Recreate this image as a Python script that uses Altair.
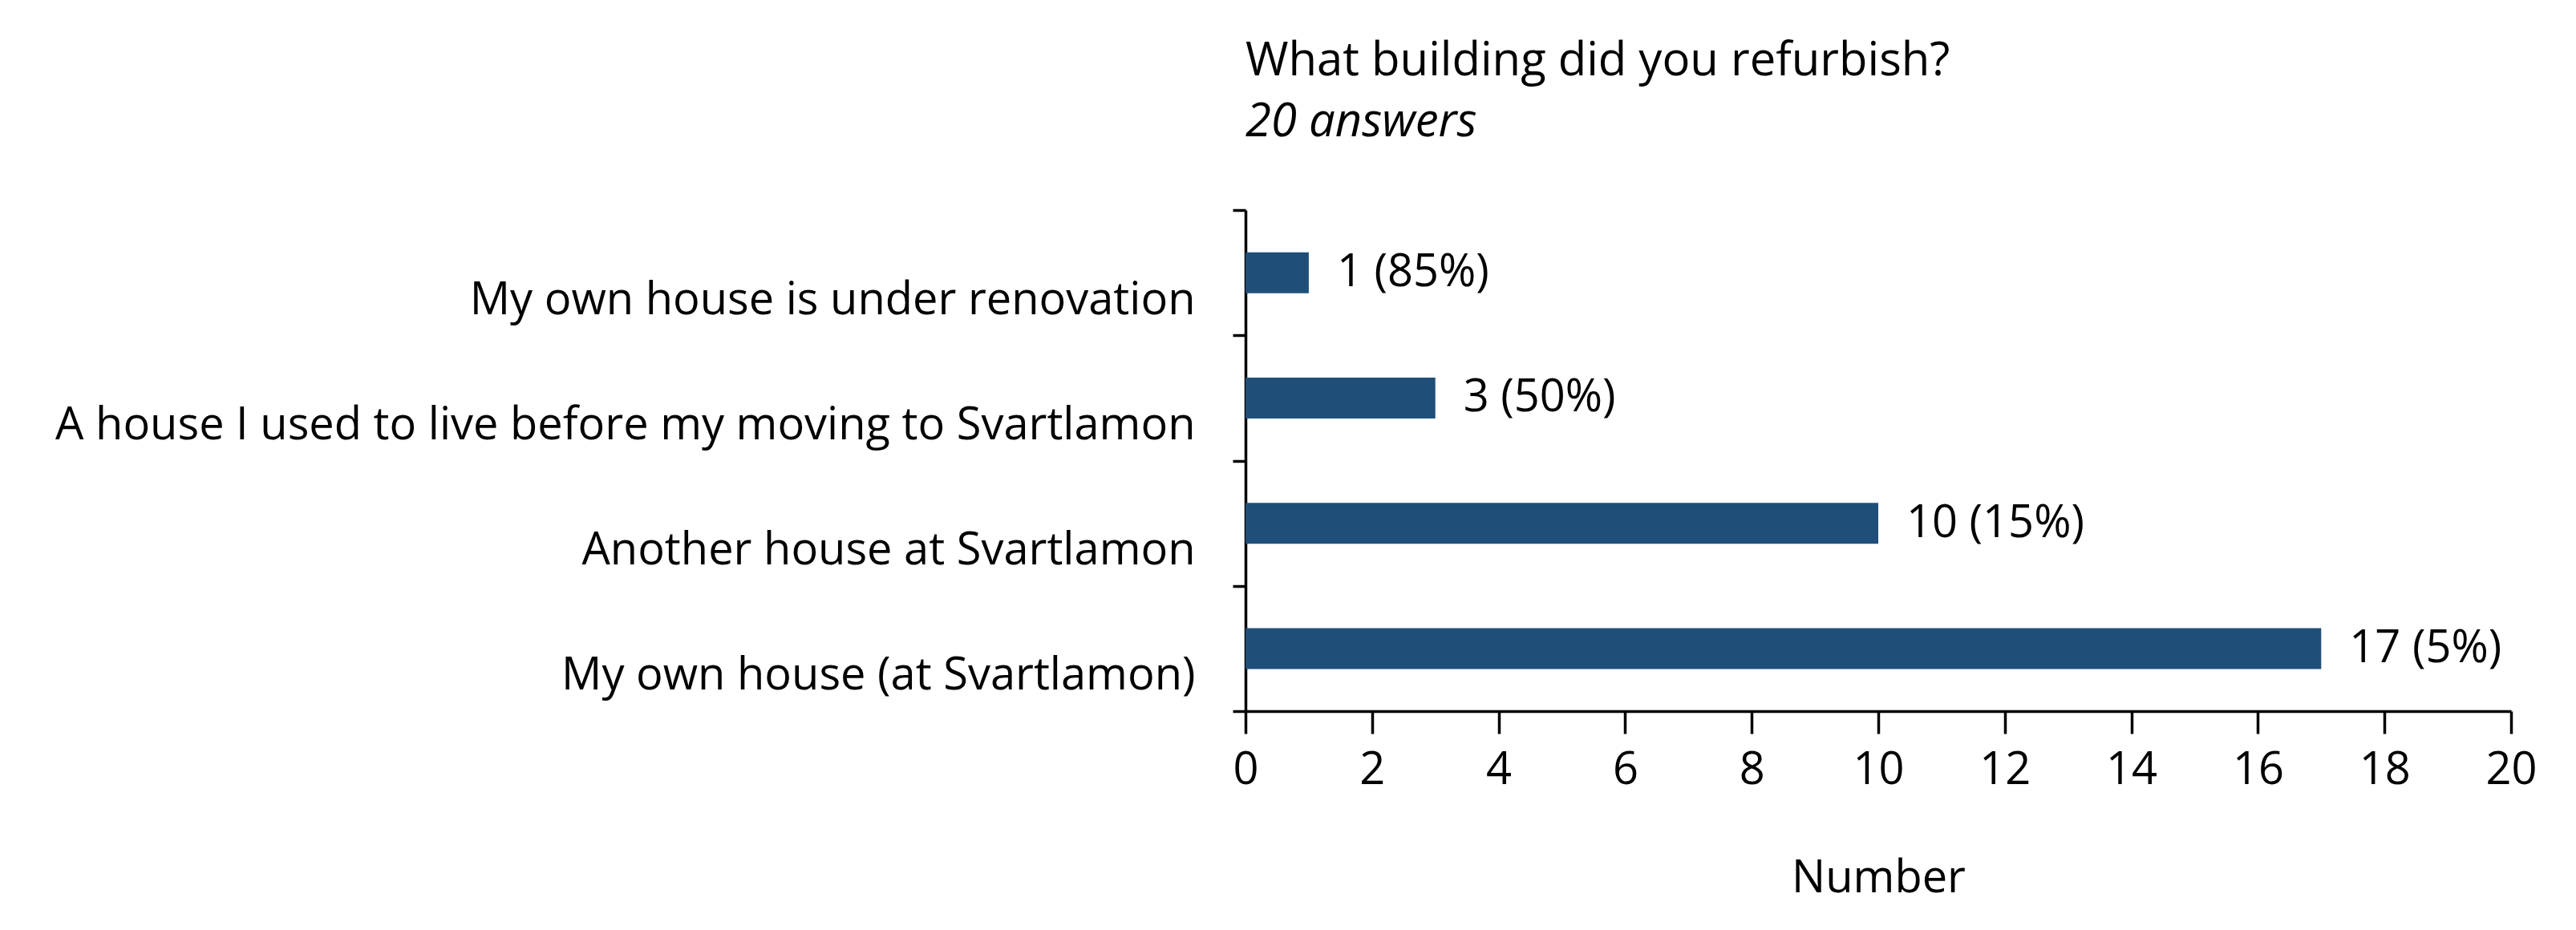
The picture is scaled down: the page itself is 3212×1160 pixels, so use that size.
import altair as alt
import pandas as pd

categories = [
    "My own house is under renovation",
    "A house I used to live before my moving to Svartlamon",
    "Another house at Svartlamon",
    "My own house (at Svartlamon)",
]
counts = [1, 3, 10, 17]
shares = ["(85%)", "(50%)", "(15%)", "(5%)"]
x_ticks = [0, 2, 4, 6, 8, 10, 12, 14, 16, 18, 20]

df = pd.DataFrame({"cat": categories, "n": counts, "pct": shares})
df["label"] = df["n"].astype(str) + " " + df["pct"]

FONT = "Open Sans"
FS = 56
W, H = 1578, 625
BAR = "#1F4E79"

y_enc = alt.Y(
    "cat:N",
    sort=categories,
    scale=alt.Scale(paddingInner=0, paddingOuter=0),
    axis=alt.Axis(
        title=None,
        tickBand="extent",
        labelOffset=34,
        labelPadding=47,
        tickSize=16,
        tickWidth=3.5,
        tickColor="black",
        domainColor="black",
        domainWidth=3.5,
        labelFont=FONT,
        labelFontSize=FS,
        labelColor="black",
        labelLimit=3000,
        grid=False,
    ),
)

x_enc = alt.X(
    "n:Q",
    scale=alt.Scale(domain=[0, 20], nice=False),
    axis=alt.Axis(
        title="Number",
        values=x_ticks,
        format="d",
        labelFlush=False,
        tickSize=28,
        tickWidth=3.5,
        tickColor="black",
        domainColor="black",
        domainWidth=3.5,
        labelFont=FONT,
        labelFontSize=FS,
        labelColor="black",
        labelPadding=18,
        titleFont=FONT,
        titleFontSize=FS,
        titleFontWeight="normal",
        titleColor="black",
        titlePadding=80,
        grid=False,
    ),
)

base = alt.Chart(df)

bars = base.mark_bar(color=BAR, size=51).encode(x=x_enc, y=y_enc)

texts = base.mark_text(
    align="left", baseline="middle", dx=35, font=FONT, fontSize=FS, color="black"
).encode(x=alt.X("n:Q"), y=alt.Y("cat:N", sort=categories), text="label:N")

chart = (
    alt.layer(bars, texts)
    .properties(
        width=W,
        height=H,
        autosize=alt.AutoSizeParams(type="none"),
        padding={"left": 1545, "top": 254, "right": 73, "bottom": 265},
        view=alt.ViewBackground(stroke="transparent", strokeWidth=0),
        title=alt.TitleParams(
            text="What building did you refurbish?",
            subtitle="20 answers",
            anchor="start",
            frame="group",
            font=FONT,
            fontSize=58,
            fontWeight="normal",
            color="black",
            subtitleFont=FONT,
            subtitleFontSize=58,
            subtitleFontStyle="italic",
            subtitleColor="black",
            subtitlePadding=18,
            offset=52,
        ),
    )
    .configure_view(strokeWidth=0, stroke="transparent")
    .configure(background="white")
)

chart.save("out.html", embed_options={"renderer": "svg", "actions": False})
